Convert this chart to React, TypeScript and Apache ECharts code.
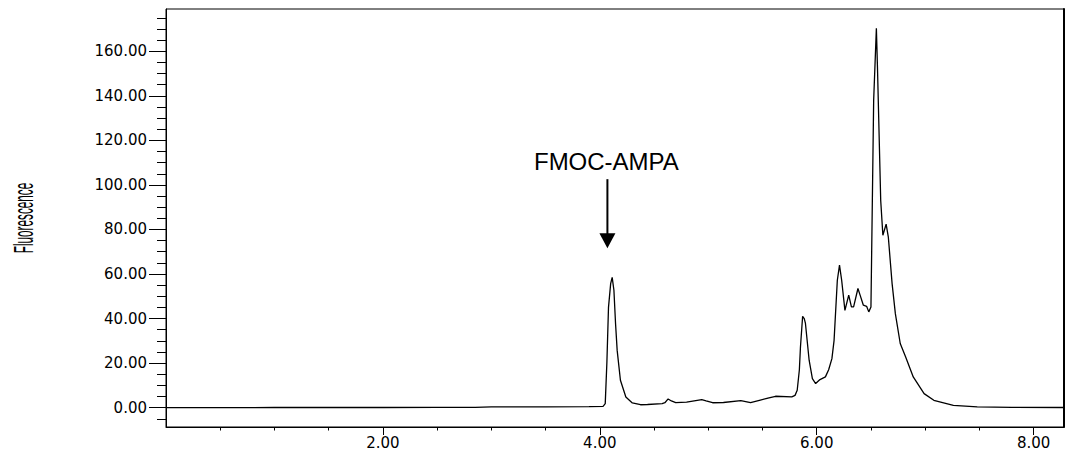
import { useEffect, useRef } from 'react';
import * as echarts from 'echarts';

// Retention time (min)
const timeMin = [
  0, 0.5, 1.0, 1.5, 2.0, 2.5, 2.85, 3.0, 3.5, 3.9,
  4.03, 4.05, 4.065, 4.08, 4.10, 4.114, 4.13, 4.145, 4.16, 4.19,
  4.24, 4.30, 4.375, 4.44, 4.575, 4.60, 4.63, 4.66, 4.70, 4.80,
  4.94, 4.98, 5.04, 5.14, 5.30, 5.39, 5.48, 5.55, 5.62, 5.77,
  5.80, 5.82, 5.84, 5.85, 5.87, 5.885, 5.896, 5.93, 5.96, 5.99,
  6.03, 6.08, 6.11, 6.14, 6.16, 6.19, 6.21, 6.23, 6.26, 6.295,
  6.32, 6.34, 6.38, 6.40, 6.43, 6.46, 6.48, 6.50, 6.525, 6.55,
  6.56, 6.59, 6.61, 6.64, 6.66, 6.695, 6.725, 6.77, 6.82, 6.89,
  6.99, 7.08, 7.26, 7.48, 7.8, 8.28,
];

// Fluorescence signal
const fluorescence = [
  0, 0, 0.05, 0.05, 0.05, 0.1, 0.1, 0.35, 0.3, 0.45,
  0.6, 1.8, 20, 45, 55.7, 58.5, 52.7, 37.8, 25.7, 12.3,
  4.8, 2.1, 1.3, 1.4, 1.8, 2.2, 3.9, 3.0, 2.2, 2.5,
  3.6, 3.0, 2.2, 2.3, 3.1, 2.2, 3.4, 4.3, 5.1, 4.8,
  5.5, 7.8, 17, 27.2, 41, 40, 37.8, 21.3, 13, 10.8,
  12.6, 13.8, 17, 22, 30.2, 57.2, 64, 57.2, 43.7, 50.5,
  45.2, 45.2, 53.5, 50.5, 46, 45.5, 43, 45.2, 138, 170.3,
  153, 93, 77.4, 82.4, 76.7, 55.7, 42.2, 28.8, 22.7, 13.8,
  6.3, 3.3, 1.0, 0.3, 0.1, 0.05,
];

const xTickValues = [2, 4, 6, 8];
const yTickValues = [0, 20, 40, 60, 80, 100, 120, 140, 160];
const xRange = [0, 8.28];
const yRange = [-8.7, 179];
const yAxisName = 'Fluorescence';
const annotationLabel = 'FMOC-AMPA';
const annotationPoint = [4.07, 71.6];

const labelFont = 'DejaVu Sans, Verdana, sans-serif';

export default function App() {
  const ref = useRef<HTMLDivElement>(null);

  useEffect(() => {
    if (!ref.current) return;
    const chart = echarts.init(ref.current, null, { renderer: 'svg' });
    const data = timeMin.map((t, i) => [t, fluorescence[i]]);

    chart.setOption({
      animation: false,
      backgroundColor: '#ffffff',
      grid: {
        left: 166,
        right: 3,
        top: 9,
        bottom: 23,
        show: true,
        borderColor: '#000',
        borderWidth: 1,
      },
      xAxis: {
        type: 'value',
        min: xRange[0],
        max: xRange[1],
        interval: 2,
        axisLine: { show: true, onZero: false, lineStyle: { color: '#000', width: 1 } },
        axisTick: {
          show: true,
          customValues: xTickValues,
          length: 8,
          lineStyle: { color: '#000' },
        },
        minorTick: { show: true, splitNumber: 4, length: 3.5, lineStyle: { color: '#000' } },
        axisLabel: {
          customValues: xTickValues,
          formatter: (v: number) => v.toFixed(2),
          margin: 8,
          color: '#000',
          fontSize: 15,
          fontFamily: labelFont,
        },
        splitLine: { show: false },
      },
      yAxis: [
        {
          type: 'value',
          position: 'left',
          min: yRange[0],
          max: yRange[1],
          splitNumber: 9,
          axisLine: { show: true, onZero: false, lineStyle: { color: '#000', width: 1 } },
          axisTick: {
            show: true,
            customValues: yTickValues,
            length: 17,
            lineStyle: { color: '#000' },
          },
          minorTick: { show: true, splitNumber: 4, length: 9, lineStyle: { color: '#000' } },
          axisLabel: {
            customValues: yTickValues,
            formatter: (v: number) => v.toFixed(2),
            margin: 19,
            color: '#000',
            fontSize: 15,
            fontFamily: labelFont,
          },
          splitLine: { show: false },
        },
        {
          type: 'value',
          position: 'right',
          min: yRange[0],
          max: yRange[1],
          axisLine: { show: true, onZero: false, lineStyle: { color: '#000', width: 2 } },
          axisTick: { show: false },
          axisLabel: { show: false },
          splitLine: { show: false },
        },
      ],
      series: [
        {
          type: 'line',
          data,
          xAxisIndex: 0,
          yAxisIndex: 0,
          showSymbol: false,
          symbol: 'none',
          lineStyle: { color: '#000', width: 1.3 },
          smooth: false,
        },
      ],
    });

    const [ax, ay] = chart.convertToPixel({ seriesIndex: 0 }, annotationPoint) as number[];
    const [gx0, gyTop] = chart.convertToPixel({ seriesIndex: 0 }, [xRange[0], yRange[1]]) as number[];
    const [, gyBottom] = chart.convertToPixel({ seriesIndex: 0 }, [xRange[0], yRange[0]]) as number[];
    chart.setOption({
      graphic: [
        {
          type: 'text',
          x: gx0 - 142,
          y: (gyTop + gyBottom) / 2,
          rotation: Math.PI / 2,
          scaleX: 0.42,
          style: {
            text: yAxisName,
            fontSize: 28,
            fontFamily: 'Liberation Sans, Arial, sans-serif',
            fill: '#000',
            align: 'center',
            verticalAlign: 'middle',
          },
        },
        {
          type: 'text',
          x: ax - 1,
          y: ay - 87,
          style: {
            text: annotationLabel,
            fontSize: 24,
            fontFamily: 'Liberation Sans, Arial, sans-serif',
            fill: '#000',
            align: 'center',
            verticalAlign: 'middle',
          },
        },
        {
          type: 'line',
          shape: { x1: ax, y1: ay - 69, x2: ax, y2: ay - 14 },
          style: { stroke: '#000', lineWidth: 2 },
        },
        {
          type: 'polygon',
          shape: { points: [[ax - 8, ay - 15], [ax + 8, ay - 15], [ax, ay]] },
          style: { fill: '#000' },
        },
      ],
    });

    return () => chart.dispose();
  }, []);

  return (
    <div
      ref={ref}
      style={{ position: 'fixed', left: 0, top: 0, width: 1067, height: 450 }}
    />
  );
}
